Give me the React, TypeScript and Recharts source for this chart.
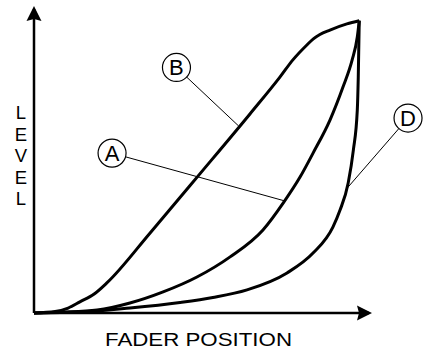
import React from 'react'
import { ComposedChart, Line, XAxis, YAxis, ReferenceLine, ReferenceDot } from 'recharts'

// fader travel (0-100) and output level (0-100)
const curveAPos = [0, 8.9, 19.4, 29.5, 39.7, 50.1, 60.3, 70.4, 76.6, 81.8, 85.8, 91.0, 95.0, 97.8, 99.4, 100]
const curveALevel = [0, 0.3, 1.0, 3.4, 7.2, 12.3, 19.2, 28.4, 37.6, 46.5, 54.7, 66.0, 77.3, 86.5, 94.4, 100]

const curveBPos = [0, 6.5, 10.5, 14.1, 18.5, 22.4, 35.7, 51.0, 66.4, 75.6, 79.6, 83.9, 85.8, 87.9, 91.0, 96.2, 100]
const curveBLevel = [0, 0.5, 1.7, 3.8, 6.5, 10.3, 27.4, 47.6, 68.1, 80.7, 86.6, 91.7, 93.7, 95.3, 96.8, 98.9, 100]

const curveDPos = [0, 14.1, 29.5, 44.9, 55.0, 65.5, 77.8, 85.8, 91.9, 94.1, 96.6, 98.2, 99.4, 99.7, 100]
const curveDLevel = [0, 0.3, 1.7, 3.6, 5.3, 7.9, 13.7, 20.5, 29.4, 35.2, 44.5, 55.8, 69.4, 80.7, 100]

// circled callouts: letter, bubble position, point on the curve
const calloutNames = ['A', 'B', 'D']
const calloutAt = [
  { x: 24.0, y: 54.7 },
  { x: 43.8, y: 84.0 },
  { x: 115.0, y: 66.7 },
]
const calloutTarget = [
  { x: 76.9, y: 38.4 },
  { x: 62.9, y: 64.0 },
  { x: 96.2, y: 42.6 },
]

const yLetters = ['L', 'E', 'V', 'E', 'L']
const xTitle = 'FADER POSITION'

const toPoints = (xs: number[], ys: number[]) => xs.map((x, i) => ({ x, y: ys[i] }))

const curves = [
  toPoints(curveAPos, curveALevel),
  toPoints(curveBPos, curveBLevel),
  toPoints(curveDPos, curveDLevel),
]

const FONT = '"Liberation Sans", Arial, Helvetica, sans-serif'

const axisStyle = { stroke: '#000', strokeWidth: 2.5 }

function XTitle({ viewBox }: any) {
  return (
    <text
      x={viewBox.x + viewBox.width / 2 - 3}
      y={viewBox.y + 33}
      textAnchor="middle"
      fontSize={19}
      textLength={187}
      lengthAdjust="spacingAndGlyphs"
      fill="#000"
    >
      {xTitle}
    </text>
  )
}

// stacked letters down the y axis
function YTitle({ viewBox }: any) {
  const cx = viewBox.x + 21
  const top = viewBox.y + 110
  return (
    <g>
      {yLetters.map((ch, i) => (
        <text key={i} x={cx} y={top + i * 21.6} textAnchor="middle" fontSize={18.5} fill="#000">
          {ch}
        </text>
      ))}
    </g>
  )
}

export default function App() {
  return (
    <div style={{ position: 'absolute', left: 0, top: 0, fontFamily: FONT, background: '#fff' }}>
      <svg width={0} height={0} style={{ position: 'absolute' }}>
        <defs>
          <marker
            id="axisArrow"
            viewBox="0 0 15 16"
            refX={12}
            refY={8}
            markerWidth={15}
            markerHeight={16}
            markerUnits="userSpaceOnUse"
            orient="auto-start-reverse"
          >
            <path d="M0,0.5 L15,8 L0,15.5 L2,8 Z" fill="#000" />
          </marker>
        </defs>
      </svg>
      <ComposedChart width={425} height={351} margin={{ top: 9, right: 56, bottom: 0, left: 0 }}>
        <XAxis
          type="number"
          dataKey="x"
          domain={[0, 103]}
          height={38}
          tick={false}
          tickLine={false}
          axisLine={{ ...axisStyle, markerEnd: 'url(#axisArrow)' }}
          label={(props: any) => <XTitle {...props} />}
        />
        <YAxis
          type="number"
          dataKey="y"
          domain={[0, 104]}
          width={34}
          tick={false}
          tickLine={false}
          axisLine={{ ...axisStyle, markerStart: 'url(#axisArrow)' }}
          label={(props: any) => <YTitle {...props} />}
        />
        {curves.map((pts, i) => (
          <Line
            key={calloutNames[i]}
            data={pts}
            dataKey="y"
            type="monotone"
            stroke="#000"
            strokeWidth={3}
            dot={false}
            activeDot={false}
            isAnimationActive={false}
          />
        ))}
        {calloutNames.map((name, i) => (
          <ReferenceLine
            key={'l' + name}
            segment={[calloutAt[i], calloutTarget[i]]}
            stroke="#000"
            strokeWidth={1}
            ifOverflow="visible"
          />
        ))}
        {calloutNames.map((name, i) => (
          <ReferenceDot
            key={'d' + name}
            x={calloutAt[i].x}
            y={calloutAt[i].y}
            r={14}
            fill="#fff"
            stroke="#000"
            strokeWidth={1.2}
            ifOverflow="visible"
            label={{ value: name, position: 'center', fontSize: 22, fill: '#000' }}
          />
        ))}
      </ComposedChart>
    </div>
  )
}
